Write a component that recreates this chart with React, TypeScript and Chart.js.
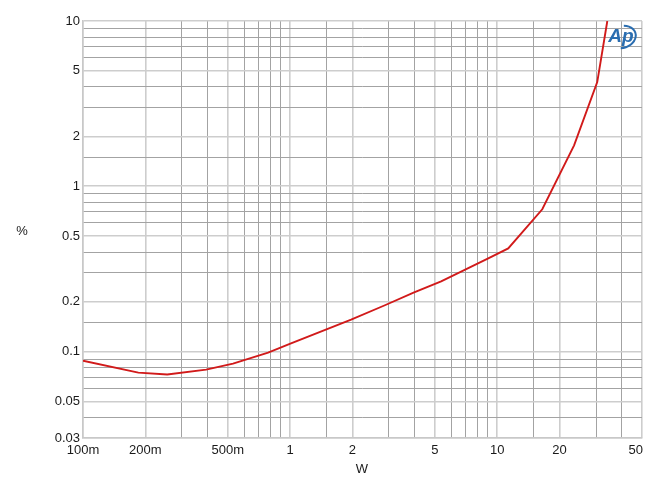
import React, { useEffect, useRef } from "react";
import { Chart, registerables } from "chart.js";

Chart.register(...registerables);

const powerW = [0.1, 0.185, 0.255, 0.393, 0.53, 0.783, 1.01, 1.97, 2.85, 3.97, 5.36, 9.05, 11.3, 16.5, 23.5, 30.4, 34.0];
const thdPercent = [0.088, 0.0746, 0.0726, 0.0778, 0.0846, 0.0986, 0.112, 0.156, 0.19, 0.228, 0.266, 0.366, 0.421, 0.726, 1.77, 4.27, 10.0];

const xTickValues = [0.1, 0.2, 0.5, 1, 2, 5, 10, 20, 50];
const xTickLabels = ["100m", "200m", "500m", "1", "2", "5", "10", "20", "50"];
const yTickValues = [0.03, 0.05, 0.1, 0.2, 0.5, 1, 2, 5, 10];
const yTickLabels = ["0.03", "0.05", "0.1", "0.2", "0.5", "1", "2", "5", "10"];

const xTitle = "W";
const yTitle = "%";
const logoText = "Ap";

const FONT = "Liberation Sans, Arial, sans-serif";

const near = (a: number, b: number) => Math.abs(a - b) / b < 1e-6;
const idxOf = (arr: number[], v: number) => arr.findIndex((t) => near(v, t));

const overlay = {
  id: "overlay",
  afterDraw(chart: any) {
    const ctx = chart.ctx;
    const xs = chart.scales.x;
    const area = chart.chartArea;
    ctx.save();
    ctx.fillStyle = "#1a1a1a";
    ctx.font = `13px ${FONT}`;
    ctx.textBaseline = "top";
    xTickValues.forEach((v, i) => {
      const label = xTickLabels[i];
      const w = ctx.measureText(label).width;
      let px = xs.getPixelForValue(v);
      if (px + w / 2 > area.right + 1) px = area.right + 1 - w / 2;
      ctx.textAlign = "center";
      ctx.fillText(label, px, area.bottom + 6);
    });
    ctx.textBaseline = "middle";
    ctx.textAlign = "center";
    ctx.fillText(xTitle, 362, 469);
    ctx.fillText(yTitle, 22, 231);

    // logo
    ctx.fillStyle = "#2a6db0";
    ctx.strokeStyle = "#2a6db0";
    ctx.font = `italic bold 19px ${FONT}`;
    ctx.fillText(logoText, 621, 37);
    ctx.lineWidth = 2;
    ctx.beginPath();
    ctx.ellipse(622, 37, 14, 11, -0.3, -1.2, 1.9);
    ctx.stroke();
    ctx.restore();
  },
};

export default function App() {
  const ref = useRef<HTMLCanvasElement>(null);
  useEffect(() => {
    document.body.style.margin = "0";
    document.body.style.overflow = "hidden";
    const gridColor = (v: number, isX: boolean) => {
      const lab = isX ? idxOf(xTickValues, v) >= 0 : idxOf(yTickValues, v) >= 0;
      return lab ? "#cdcdcd" : "#a3a3a3";
    };
    const gridWidth = (v: number, isX: boolean) => {
      const lab = isX ? idxOf(xTickValues, v) >= 0 : idxOf(yTickValues, v) >= 0;
      return lab ? 1.6 : 1;
    };
    const chart = new Chart(ref.current!, {
      type: "line",
      data: {
        datasets: [
          {
            data: powerW.map((x, i) => ({ x, y: thdPercent[i] })),
            borderColor: "#d11a1a",
            borderWidth: 1.9,
            pointRadius: 0,
            tension: 0,
            fill: false,
          },
        ],
      },
      options: {
        animation: false,
        responsive: false,
        maintainAspectRatio: false,
        layout: { padding: { left: 0, top: 21, right: 27, bottom: 0 } },
        plugins: { legend: { display: false }, tooltip: { enabled: false } },
        scales: {
          x: {
            type: "logarithmic",
            min: 0.1,
            max: 50,
            afterFit: (s: any) => {
              s.height = 51;
            },
            border: { display: true, color: "#c8c8c8", width: 1.5 },
            grid: {
              drawTicks: false,
              color: (c: any) => gridColor(c.tick.value, true),
              lineWidth: (c: any) => gridWidth(c.tick.value, true),
            },
            ticks: { display: false, autoSkip: false },
          },
          y: {
            type: "logarithmic",
            min: 0.03,
            max: 10,
            afterFit: (s: any) => {
              s.width = 83;
            },
            border: { display: true, color: "#c8c8c8", width: 1.5 },
            grid: {
              drawTicks: false,
              color: (c: any) => gridColor(c.tick.value, false),
              lineWidth: (c: any) => gridWidth(c.tick.value, false),
            },
            ticks: {
              autoSkip: false,
              padding: 3,
              color: "#1a1a1a",
              font: { size: 13, family: FONT },
              callback: (v: any) => {
                const i = idxOf(yTickValues, Number(v));
                return i >= 0 ? yTickLabels[i] : "";
              },
            },
          },
        },
      },
      plugins: [overlay],
    });
    return () => chart.destroy();
  }, []);
  return (
    <div style={{ width: 669, height: 489 }}>
      <canvas ref={ref} width={669} height={489} style={{ display: "block" }} />
    </div>
  );
}
